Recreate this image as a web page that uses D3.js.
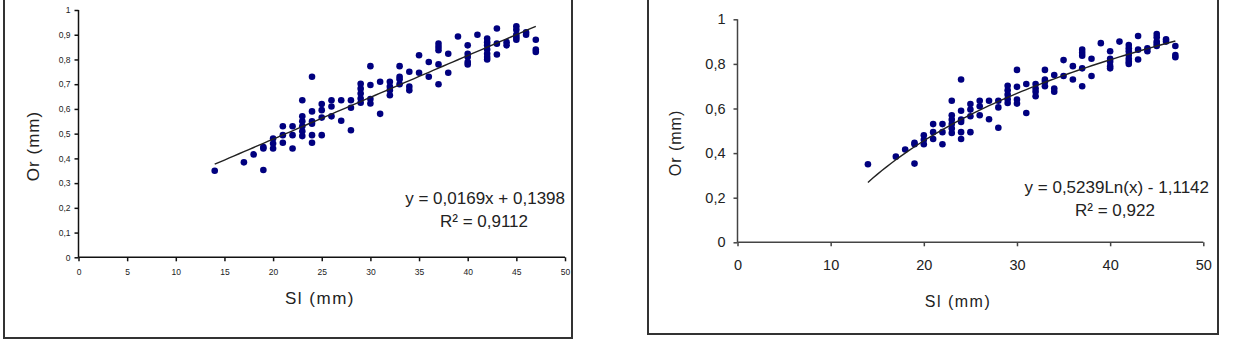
<!DOCTYPE html>
<html lang="en">
<head>
<meta charset="UTF-8">
<script src="https://d3js.org/d3.v7.min.js"></script>
<title>Or vs Sl</title>
<style>
  body { margin: 0; background: #fff; }
  svg text { font-family: "Liberation Sans", Arial, sans-serif; fill: #222; }
</style>
</head>
<body>
<script>
// Sl (mm) of each fish and the matching Or (mm)
var sl = [14, 17, 18, 19, 19, 19,
  20, 20, 20, 21, 21, 21, 22, 22, 22,
  23, 23, 23, 23, 23, 23, 24, 24, 24, 24, 24, 24,
  25, 25, 25, 25, 26, 26, 26, 27, 27, 28, 28, 28,
  29, 29, 29, 29, 29, 30, 30, 30, 30, 31, 31,
  32, 32, 32, 32, 33, 33, 33, 33, 34, 34, 34, 35, 35, 36, 36,
  37, 37, 37, 37, 37, 38, 38, 39, 40, 40, 40, 40, 40, 41,
  42, 42, 42, 42, 42, 42, 42, 43, 43, 43, 44, 44,
  45, 45, 45, 45, 45, 46, 46, 47, 47, 47];
var or = [0.35, 0.384, 0.416, 0.353, 0.44, 0.446,
  0.48, 0.46, 0.44, 0.53, 0.494, 0.463, 0.53, 0.494, 0.44,
  0.635, 0.57, 0.55, 0.53, 0.51, 0.49, 0.73, 0.59, 0.55, 0.54, 0.494, 0.463,
  0.62, 0.595, 0.565, 0.494, 0.635, 0.61, 0.57, 0.635, 0.552, 0.635, 0.605, 0.514,
  0.702, 0.682, 0.662, 0.642, 0.625, 0.773, 0.697, 0.64, 0.622, 0.71, 0.58,
  0.71, 0.69, 0.675, 0.655, 0.773, 0.73, 0.72, 0.70, 0.75, 0.69, 0.675, 0.817, 0.746, 0.79, 0.73,
  0.864, 0.85, 0.837, 0.78, 0.70, 0.823, 0.746, 0.893, 0.857, 0.823, 0.81, 0.79, 0.78, 0.90,
  0.885, 0.87, 0.857, 0.84, 0.823, 0.81, 0.80, 0.925, 0.864, 0.82, 0.87, 0.857,
  0.934, 0.92, 0.90, 0.89, 0.88, 0.91, 0.90, 0.88, 0.84, 0.83];

var leftYTicks = [0, 0.1, 0.2, 0.3, 0.4, 0.5, 0.6, 0.7, 0.8, 0.9, 1];
var leftXTicks = [0, 5, 10, 15, 20, 25, 30, 35, 40, 45, 50];
var rightYTicks = [0, 0.2, 0.4, 0.6, 0.8, 1];
var rightXTicks = [0, 10, 20, 30, 40, 50];

var linFit = [0.0169, 0.1398];      // y = a x + b
var logFit = [0.5239, -1.1142];     // y = a ln(x) + b
var fitRange = [14, 47];

var fmt = function(d) { return String(d).replace(".", ","); };

var svg = d3.select("body").append("svg").attr("width", 1233).attr("height", 342);

function chart(o) {
  var g = svg.append("g");
  // frame
  g.append("rect").attr("x", o.frame[0]).attr("y", -4)
    .attr("width", o.frame[1] - o.frame[0]).attr("height", o.frame[2] + 4)
    .attr("fill", "none").attr("stroke", "#333").attr("stroke-width", 2);

  var x = d3.scaleLinear().domain([0, 50]).range(o.xr);
  var y = d3.scaleLinear().domain([0, 1]).range(o.yr);

  var ya = g.append("g").attr("transform", "translate(" + o.xr[0] + ",0)")
    .call(d3.axisLeft(y).tickValues(o.yt).tickFormat(fmt).tickSize(4).tickPadding(o.pad));
  var xa = g.append("g").attr("transform", "translate(0," + o.yr[0] + ")")
    .call(d3.axisBottom(x).tickValues(o.xt).tickFormat(fmt).tickSize(4).tickPadding(o.xpad));
  [ya, xa].forEach(function(a) {
    a.selectAll("path, line").attr("stroke", o.axisCol).attr("stroke-width", 1.5);
    a.selectAll("text").style("font-family", "Liberation Sans, Arial, sans-serif")
      .style("font-size", o.tickFont + "px").attr("fill", "#333");
  });
  ya.select(".domain").attr("d", "M0," + o.yr[1] + "V" + o.yr[0]);
  xa.select(".domain").attr("d", "M" + o.xr[0] + ",0H" + o.xr[1]);

  g.append("g").selectAll("circle").data(d3.range(sl.length)).enter().append("circle")
    .attr("cx", function(i) { return x(sl[i]); })
    .attr("cy", function(i) { return y(or[i]); })
    .attr("r", 3.3).attr("fill", "#00007f");

  var xs = d3.range(fitRange[0], fitRange[1] + 0.01, 0.5);
  g.append("path").datum(xs)
    .attr("d", d3.line().x(function(d) { return x(d); }).y(function(d) { return y(o.fit(d)); }))
    .attr("fill", "none").attr("stroke", "#222").attr("stroke-width", 1.4);

  g.append("text").attr("x", o.eq[0]).attr("y", o.eq[1]).attr("text-anchor", "end")
    .style("font-size", o.eqFont + "px").text(o.eqText);
  g.append("text").attr("x", o.r2[0]).attr("y", o.r2[1]).attr("text-anchor", "middle")
    .style("font-size", o.eqFont + "px").text(o.r2Text);

  g.append("text").attr("x", o.xt2[0]).attr("y", o.xt2[1]).attr("text-anchor", "middle")
    .style("font-size", o.titleFont + "px").style("letter-spacing", "1.5px").text("Sl (mm)");
  g.append("text").attr("transform", "translate(" + o.yt2[0] + "," + o.yt2[1] + ") rotate(-90)")
    .attr("text-anchor", "middle").style("font-size", o.titleFont + "px")
    .style("letter-spacing", "1px").text("Or (mm)");
}

chart({
  frame: [4, 572, 338], xr: [78.5, 565], yr: [257.3, 10], yt: leftYTicks, xt: leftXTicks,
  pad: 4, xpad: 8, tickFont: 8.5, axisCol: "#111",
  fit: function(v) { return linFit[0] * v + linFit[1]; },
  eq: [565, 204], r2: [484, 227], eqFont: 17,
  eqText: "y = 0,0169x + 0,1398", r2Text: "R² = 0,9112",
  xt2: [320, 304], yt2: [39, 146], titleFont: 17
});

chart({
  frame: [648, 1218, 334], xr: [737.5, 1203.3], yr: [242.3, 19.3], yt: rightYTicks, xt: rightXTicks,
  pad: 8, xpad: 13, tickFont: 14.5, axisCol: "#444",
  fit: function(v) { return logFit[0] * Math.log(v) + logFit[1]; },
  eq: [1209, 193], r2: [1115, 216], eqFont: 17,
  eqText: "y = 0,5239Ln(x) - 1,1142", r2Text: "R² = 0,922",
  xt2: [958, 307], yt2: [681, 143], titleFont: 16
});
</script>
</body>
</html>
